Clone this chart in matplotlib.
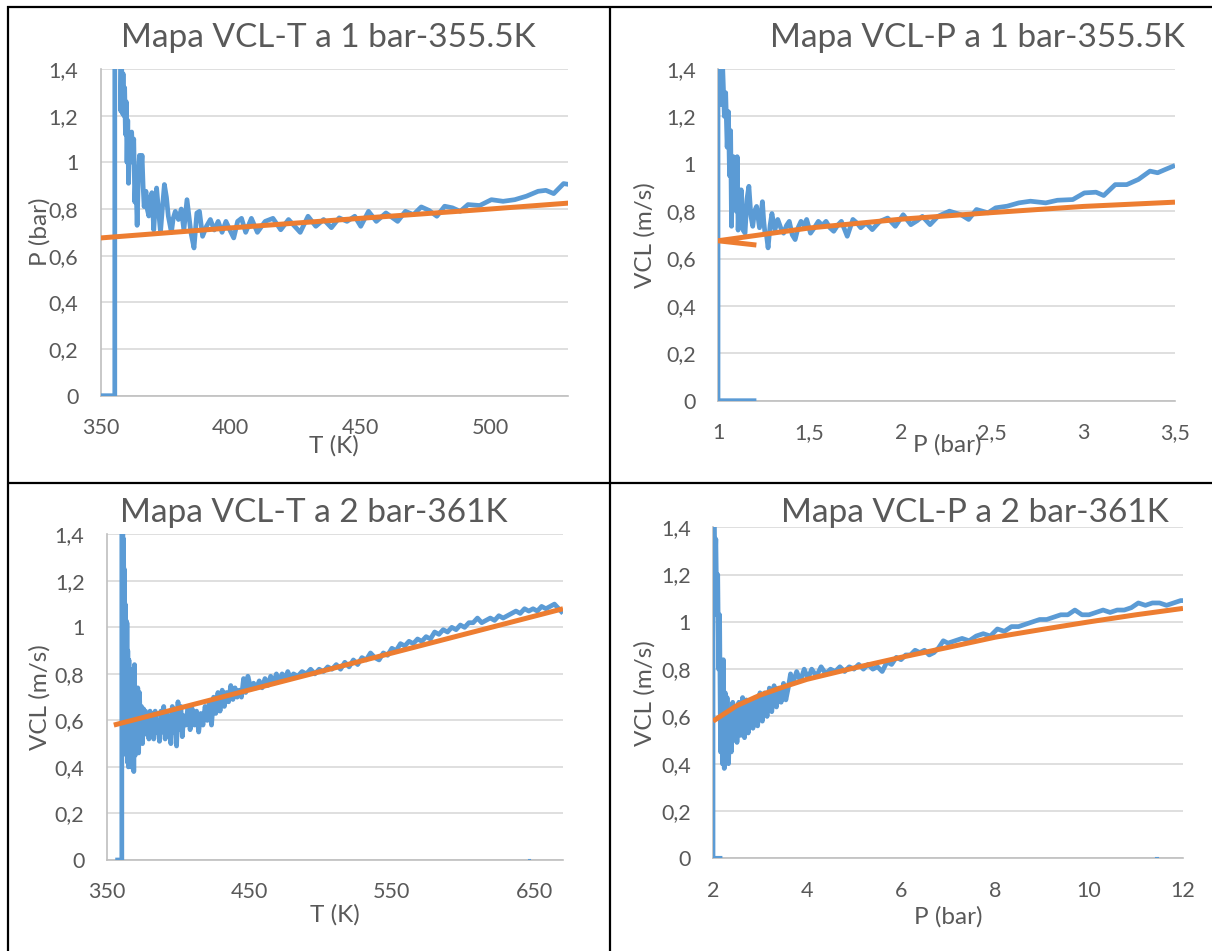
import matplotlib
matplotlib.use("Agg")
import matplotlib.pyplot as plt
from matplotlib.lines import Line2D

plt.rcParams['font.family'] = ['Lato', 'DejaVu Sans']

# ---------------- data ----------------
# Panel 1: VCL-T at 1 bar (T in K, value in bar axis)
T1 = [350.0, 355.5, 355.5, 357.6, 357.8, 358.1, 358.4, 358.7, 359.0, 359.3,
      359.6, 359.9, 360.2, 360.5, 360.8, 361.2, 361.6, 362.0, 362.4, 362.8,
      363.2, 363.6, 364.1, 364.6, 365.0, 365.5, 366.0, 366.4, 366.8, 367.5,
      368.0, 368.6, 369.2, 369.8, 370.5, 371.0, 371.6, 372.3, 373.1, 373.8,
      374.6, 375.4, 376.1, 377.3, 378.0, 378.8, 380.0, 381.1, 382.1, 383.3,
      384.8, 386.0, 387.1, 388.1, 389.3, 390.8, 392.3, 393.8, 395.3, 396.8,
      398.3, 399.8, 401.3, 402.8, 404.3, 405.9, 408.1, 410.4, 413.4, 416.4,
      419.4, 422.4, 426.9, 429.9, 432.9, 435.9, 438.9, 441.9, 444.9, 447.9,
      450.2, 453.2, 456.2, 459.9, 464.4, 467.4, 470.5, 473.5, 476.5, 479.5,
      482.5, 485.5, 488.5, 491.5, 496.0, 500.5, 505.0, 509.5, 514.0, 518.5,
      521.5, 524.5, 528.3, 530.5]
V1 = [0.0, 0.0, 1.6, 1.6, 1.22, 1.45, 1.21, 1.38, 1.20, 1.32,
      1.12, 1.26, 1.00, 1.18, 0.91, 1.12, 1.05, 1.13, 1.00, 1.10,
      0.83, 0.95, 0.73, 0.95, 1.03, 0.95, 1.03, 0.90, 0.81, 0.876,
      0.80, 0.77, 0.85, 0.87, 0.71, 0.80, 0.89, 0.80, 0.70, 0.80,
      0.905, 0.85, 0.77, 0.70, 0.76, 0.79, 0.755, 0.80, 0.71, 0.84,
      0.70, 0.633, 0.783, 0.79, 0.683, 0.726, 0.755, 0.71, 0.747, 0.70,
      0.747, 0.71, 0.676, 0.747, 0.76, 0.70, 0.76, 0.70, 0.747, 0.76,
      0.711, 0.755, 0.70, 0.769, 0.726, 0.755, 0.72, 0.762, 0.747, 0.769,
      0.726, 0.79, 0.747, 0.783, 0.747, 0.79, 0.776, 0.809, 0.794, 0.769,
      0.812, 0.805, 0.79, 0.819, 0.815, 0.84, 0.833, 0.84, 0.855, 0.876,
      0.88, 0.866, 0.909, 0.905]
TREND_T1 = [350, 400, 450, 500, 531]
TREND_V1 = [0.676, 0.719, 0.760, 0.800, 0.826]

# Panel 2: VCL-P at 1 bar
P2 = [1.21, 1.0, 1.0, 1.005, 1.015, 1.025, 1.035, 1.042, 1.05, 1.057,
      1.063, 1.069, 1.074, 1.079, 1.084, 1.09, 1.095, 1.10, 1.105, 1.11,
      1.116, 1.122, 1.127, 1.137, 1.148, 1.158, 1.169, 1.18, 1.19, 1.20,
      1.211, 1.227, 1.243, 1.25, 1.257, 1.265, 1.274, 1.285, 1.295, 1.311,
      1.327, 1.343, 1.359, 1.375, 1.39, 1.406, 1.422, 1.438, 1.454, 1.47,
      1.485, 1.506, 1.527, 1.549, 1.57, 1.591, 1.612, 1.633, 1.654, 1.675,
      1.707, 1.738, 1.76, 1.781, 1.81, 1.844, 1.865, 1.886, 1.928, 1.97,
      2.013, 2.055, 2.09, 2.118, 2.16, 2.203, 2.266, 2.329, 2.371, 2.414,
      2.477, 2.519, 2.582, 2.646, 2.709, 2.793, 2.857, 2.941, 3.004, 3.068,
      3.11, 3.173, 3.236, 3.30, 3.363, 3.405, 3.447, 3.50]
V2 = [0.0, 0.0, 1.6, 1.6, 1.25, 1.42, 1.20, 1.30, 1.07, 1.22,
      0.95, 1.14, 0.736, 1.00, 1.03, 0.90, 0.98, 0.80, 1.03, 0.72,
      0.89, 0.80, 0.89, 0.72, 0.707, 0.85, 0.905, 0.78, 0.736, 0.80,
      0.82, 0.73, 0.84, 0.76, 0.707, 0.70, 0.645, 0.74, 0.79, 0.72,
      0.765, 0.73, 0.707, 0.74, 0.757, 0.70, 0.68, 0.73, 0.757, 0.74,
      0.765, 0.707, 0.73, 0.757, 0.74, 0.757, 0.73, 0.715, 0.74, 0.757,
      0.694, 0.765, 0.75, 0.73, 0.75, 0.722, 0.74, 0.757, 0.771, 0.736,
      0.785, 0.743, 0.76, 0.778, 0.743, 0.778, 0.80, 0.785, 0.765, 0.807,
      0.793, 0.814, 0.821, 0.835, 0.842, 0.835, 0.846, 0.849, 0.877, 0.88,
      0.866, 0.912, 0.912, 0.934, 0.969, 0.962, 0.976, 0.993]
TREND_P2 = [1.21, 1.0, 1.5, 2.0, 2.5, 3.0, 3.5]
TREND_V2 = [0.657, 0.675, 0.729, 0.766, 0.794, 0.82, 0.838]

# Panel 3: VCL-T at 2 bar
T3 = [356.0, 360.6, 360.6, 361.2, 361.5, 361.8, 362.1, 362.4, 362.7, 363.0,
      363.3, 363.6, 363.9, 364.2, 364.5, 364.8, 365.2, 365.6, 366.0, 366.5,
      367.0, 367.5, 368.0, 368.5, 369.0, 369.5, 370.0, 370.6, 371.2, 371.8,
      372.4, 373.0, 373.7, 374.4, 375.1, 375.8, 376.5, 377.2, 378.0, 378.8,
      379.6, 380.4, 381.2, 382.0, 383.0, 384.0, 385.0, 386.0, 387.0, 388.0,
      389.0, 390.0, 391.0, 392.0, 393.0, 394.0, 395.0, 396.0, 397.0, 398.0,
      399.0, 400.0, 401.0, 402.0, 403.0, 404.0, 405.5, 407.0, 408.5, 410.0,
      411.5, 413.0, 414.5, 416.0, 417.5, 419.0, 420.5, 422.0, 423.5, 425.0,
      426.5, 428.0, 429.5, 431.0, 432.5, 434.0, 435.5, 437.0, 438.5, 440.0,
      441.5, 443.0, 444.5, 446.0, 447.5, 449.0, 451.0, 453.0, 455.0, 457.0,
      459.0, 461.0, 463.0, 465.0, 467.0, 469.0, 471.0, 473.0, 475.0, 477.0,
      479.0, 481.0, 484.0, 487.0, 490.0, 493.0, 496.0, 499.0, 502.0, 505.0,
      508.0, 511.0, 514.0, 517.0, 520.0, 523.0, 526.0, 529.0, 532.0, 535.0,
      538.0, 541.0, 544.0, 547.0, 550.0, 553.0, 556.0, 559.0, 562.0, 565.0,
      568.0, 571.0, 574.0, 577.0, 580.0, 583.0, 586.0, 589.0, 592.0, 595.0,
      598.0, 601.0, 604.0, 607.0, 610.0, 613.0, 616.0, 619.0, 622.0, 625.0,
      628.0, 631.0, 634.0, 637.0, 640.0, 643.0, 646.0, 649.0, 652.0, 655.0,
      658.0, 661.0, 664.0, 667.0, 670.0]
V3 = [0.0, 0.0, 1.6, 1.6, 1.20, 1.38, 1.05, 1.25, 0.75, 1.10,
      0.60, 1.03, 0.45, 1.02, 0.42, 0.90, 0.40, 0.86, 0.44, 0.82,
      0.40, 0.80, 0.50, 0.82, 0.38, 0.84, 0.45, 0.70, 0.50, 0.74,
      0.46, 0.72, 0.52, 0.66, 0.50, 0.65, 0.55, 0.64, 0.54, 0.62,
      0.52, 0.64, 0.55, 0.62, 0.52, 0.64, 0.55, 0.60, 0.51, 0.64,
      0.55, 0.66, 0.52, 0.63, 0.55, 0.62, 0.50, 0.66, 0.55, 0.64,
      0.49, 0.68, 0.56, 0.66, 0.53, 0.62, 0.58, 0.66, 0.56, 0.65,
      0.58, 0.64, 0.55, 0.63, 0.58, 0.66, 0.60, 0.68, 0.58, 0.70,
      0.63, 0.72, 0.64, 0.73, 0.66, 0.72, 0.68, 0.75, 0.69, 0.74,
      0.70, 0.73, 0.70, 0.78, 0.72, 0.79, 0.74, 0.76, 0.74, 0.77,
      0.74, 0.78, 0.75, 0.79, 0.76, 0.80, 0.77, 0.80, 0.78, 0.81,
      0.78, 0.80, 0.79, 0.81, 0.80, 0.82, 0.80, 0.82, 0.81, 0.83,
      0.82, 0.84, 0.82, 0.85, 0.83, 0.86, 0.84, 0.87, 0.86, 0.89,
      0.87, 0.86, 0.89, 0.88, 0.91, 0.90, 0.93, 0.92, 0.94, 0.93,
      0.95, 0.94, 0.96, 0.95, 0.98, 0.97, 0.99, 0.98, 1.00, 0.99,
      1.01, 1.00, 1.02, 1.02, 1.04, 1.02, 1.03, 1.04, 1.03, 1.05,
      1.04, 1.05, 1.06, 1.07, 1.06, 1.08, 1.07, 1.08, 1.07, 1.09,
      1.08, 1.09, 1.10, 1.08, 1.06]
DOT_T3 = [646.2, 646.7]
DOT_V3 = [0.0, 0.0]
TREND_T3 = [355, 670]
TREND_V3 = [0.58, 1.08]

# Panel 4: VCL-P at 2 bar
P4 = [2.2, 2.0, 2.0, 2.02, 2.04, 2.06, 2.08, 2.10, 2.12, 2.14,
      2.16, 2.18, 2.20, 2.22, 2.24, 2.26, 2.28, 2.30, 2.33, 2.36,
      2.39, 2.42, 2.45, 2.48, 2.51, 2.55, 2.59, 2.63, 2.67, 2.71,
      2.75, 2.80, 2.85, 2.90, 2.95, 3.00, 3.05, 3.10, 3.15, 3.20,
      3.25, 3.30, 3.35, 3.40, 3.45, 3.50, 3.55, 3.60, 3.65, 3.70,
      3.78, 3.86, 3.94, 4.02, 4.10, 4.20, 4.30, 4.40, 4.50, 4.60,
      4.70, 4.80, 4.90, 5.00, 5.10, 5.20, 5.30, 5.40, 5.50, 5.60,
      5.70, 5.80, 5.90, 6.00, 6.10, 6.20, 6.30, 6.40, 6.50, 6.60,
      6.70, 6.80, 6.90, 7.00, 7.15, 7.30, 7.45, 7.60, 7.75, 7.90,
      8.05, 8.20, 8.35, 8.50, 8.65, 8.80, 8.95, 9.10, 9.25, 9.40,
      9.55, 9.70, 9.85, 10.00, 10.15, 10.30, 10.45, 10.60, 10.75, 10.90,
      11.05, 11.20, 11.35, 11.50, 11.65, 11.80, 11.95, 12.05]
V4 = [0.0, 0.0, 1.6, 1.6, 1.21, 1.35, 1.03, 1.20, 0.80, 1.03,
      0.45, 0.83, 0.40, 0.84, 0.38, 0.70, 0.42, 0.68, 0.40, 0.62,
      0.45, 0.66, 0.50, 0.63, 0.49, 0.66, 0.52, 0.68, 0.51, 0.67,
      0.53, 0.66, 0.55, 0.68, 0.56, 0.70, 0.58, 0.70, 0.60, 0.72,
      0.62, 0.73, 0.64, 0.72, 0.66, 0.74, 0.67, 0.72, 0.78, 0.74,
      0.79, 0.75, 0.80, 0.76, 0.80, 0.77, 0.81, 0.78, 0.80, 0.79,
      0.81, 0.79, 0.81, 0.80, 0.82, 0.80, 0.82, 0.80, 0.81, 0.79,
      0.83, 0.82, 0.85, 0.84, 0.86, 0.86, 0.88, 0.87, 0.88, 0.86,
      0.87, 0.89, 0.92, 0.91, 0.92, 0.93, 0.92, 0.94, 0.95, 0.94,
      0.97, 0.96, 0.98, 0.98, 0.99, 1.00, 1.01, 1.01, 1.02, 1.03,
      1.03, 1.05, 1.03, 1.03, 1.04, 1.05, 1.04, 1.05, 1.05, 1.06,
      1.08, 1.07, 1.08, 1.08, 1.07, 1.08, 1.09, 1.09]
DOT_P4 = [11.42, 11.47]
DOT_V4 = [0.0, 0.0]
TREND_P4 = [2, 2.5, 3, 3.5, 4, 5, 6, 7, 8, 9, 10, 11, 12]
TREND_V4 = [0.58, 0.645, 0.69, 0.725, 0.757, 0.805, 0.85, 0.892, 0.935, 0.968, 1.0, 1.03, 1.057]

Y_TICKS = [0, 0.2, 0.4, 0.6, 0.8, 1.0, 1.2, 1.4]
Y_TICKLABELS = ['0', '0,2', '0,4', '0,6', '0,8', '1', '1,2', '1,4']
X_TICKS_1 = [350, 400, 450, 500]
X_TICKLABELS_1 = ['350', '400', '450', '500']
X_TICKS_2 = [1, 1.5, 2, 2.5, 3, 3.5]
X_TICKLABELS_2 = ['1', '1,5', '2', '2,5', '3', '3,5']
X_TICKS_3 = [350, 450, 550, 650]
X_TICKLABELS_3 = ['350', '450', '550', '650']
X_TICKS_4 = [2, 4, 6, 8, 10, 12]
X_TICKLABELS_4 = ['2', '4', '6', '8', '10', '12']

TITLES = ['Mapa VCL-T a 1 bar-355.5K', 'Mapa VCL-P a 1 bar-355.5K',
          'Mapa VCL-T a 2 bar-361K', 'Mapa VCL-P a 2 bar-361K']

# ---------------- style ----------------
W, H = 1212, 951
BLUE = '#5b9bd5'
ORANGE = '#ed7d31'
GRID = '#d9d9d9'
AXIS = '#bfbfbf'
TEXT = '#595959'

fig = plt.figure(figsize=(W / 100, H / 100), dpi=100)
fig.patch.set_facecolor('white')


def px_axes(left, top, right, bottom):
    return fig.add_axes([left / W, 1 - bottom / H, (right - left) / W, (bottom - top) / H])


def fig_text(x, y, s, **kw):
    fig.text(x / W, 1 - y / H, s, color=TEXT, **kw)


def style(ax, xlim, xticks, xlabels):
    ax.set_xlim(*xlim)
    ax.set_ylim(0, 1.4)
    ax.set_yticks(Y_TICKS)
    ax.set_yticklabels(Y_TICKLABELS)
    ax.set_xticks(xticks)
    ax.set_xticklabels(xlabels)
    ax.tick_params(length=0, labelsize=15.5, labelcolor=TEXT)
    ax.tick_params(axis='y', pad=16)
    ax.tick_params(axis='x', pad=16)
    for s in ('top', 'right'):
        ax.spines[s].set_visible(False)
    for s in ('left', 'bottom'):
        ax.spines[s].set_color(AXIS)
        ax.spines[s].set_linewidth(1.2)
    ax.yaxis.grid(True, color=GRID, linewidth=1.2)
    ax.xaxis.grid(False)
    ax.set_axisbelow(True)
    ax.set_facecolor('none')


def draw(ax, x, y, tx, ty, dx=None, dy=None):
    ax.plot(x, y, color=BLUE, lw=3.4, solid_joinstyle='round', solid_capstyle='butt', zorder=3)
    if dx is not None:
        ax.plot(dx, dy, color=BLUE, lw=1.5, zorder=3)
    ax.plot(tx, ty, color=ORANGE, lw=3.6, solid_joinstyle='round', solid_capstyle='butt', zorder=4)


TITLE_KW = dict(fontsize=24, ha='center', va='baseline')
LABEL_KW = dict(fontsize=17.5, ha='center', va='center')

# Panel 1
ax1 = px_axes(100.5, 69, 568, 395.7)
style(ax1, (350, 530), X_TICKS_1, X_TICKLABELS_1)
draw(ax1, T1, V1, TREND_T1, TREND_V1)
fig_text(328, 46.7, TITLES[0], **TITLE_KW)
fig_text(40, 232, 'P (bar)', rotation=90, **LABEL_KW)
fig_text(334, 446, 'T (K)', **LABEL_KW)

# Panel 2
ax2 = px_axes(718, 69, 1175, 400.7)
style(ax2, (1, 3.5), X_TICKS_2, X_TICKLABELS_2)
draw(ax2, P2, V2, TREND_P2, TREND_V2)
fig_text(977, 46.7, TITLES[1], **TITLE_KW)
fig_text(645, 235, 'VCL (m/s)', rotation=90, **LABEL_KW)
fig_text(947, 445, 'P (bar)', **LABEL_KW)

# Panel 3
ax3 = px_axes(106.7, 534.3, 563, 860)
style(ax3, (350, 670), X_TICKS_3, X_TICKLABELS_3)
draw(ax3, T3, V3, TREND_T3, TREND_V3, DOT_T3, DOT_V3)
fig_text(314, 522, TITLES[2], **TITLE_KW)
fig_text(40, 697, 'VCL (m/s)', rotation=90, **LABEL_KW)
fig_text(334.5, 915, 'T (K)', **LABEL_KW)

# Panel 4
ax4 = px_axes(713, 527.3, 1183, 858.3)
style(ax4, (2, 12), X_TICKS_4, X_TICKLABELS_4)
draw(ax4, P4, V4, TREND_P4, TREND_V4, DOT_P4, DOT_V4)
fig_text(974.5, 522, TITLES[3], **TITLE_KW)
fig_text(645, 693, 'VCL (m/s)', rotation=90, **LABEL_KW)
fig_text(948, 917, 'P (bar)', **LABEL_KW)

# Table grid around the four panels
def border(x0, y0, x1, y1):
    fig.add_artist(Line2D([x0 / W, x1 / W], [1 - y0 / H, 1 - y1 / H],
                          color='black', lw=1.6, solid_capstyle='butt'))

border(7, 7, W, 7)
border(8, 6, 8, H)
border(610, 6, 610, H)
border(8, 483, W, 483)

fig.savefig('out.png', dpi=100, facecolor='white')
